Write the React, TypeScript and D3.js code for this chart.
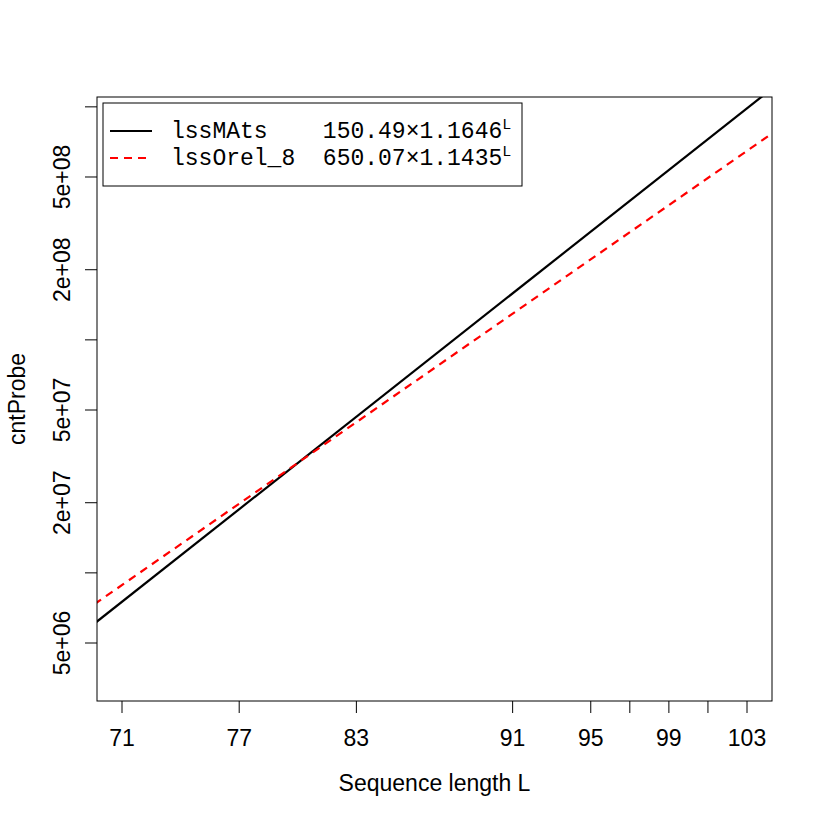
import React from "react";
import * as d3 from "d3";

// ---- data ----
const seriesNames = ["lssMAts", "lssOrel_8"];
const seriesLabels = ["lssMAts    ", "lssOrel_8  "];
const seriesCoefA = [150.49, 650.07];
const seriesBase = [1.1646, 1.1435];
const seriesColors = ["#000000", "#ff0000"];
const seriesDash = ["none", "8,6"];
const lineSpanL = [69, 106];

const xTicks = [71, 77, 83, 91, 95, 97, 99, 101, 103];
const xTickLabels = ["71", "77", "83", "91", "95", "", "99", "", "103"];
const yTicks = [5e6, 1e7, 2e7, 5e7, 1e8, 2e8, 5e8, 1e9];
const yTickLabels = ["5e+06", "", "2e+07", "5e+07", "", "2e+08", "5e+08", ""];

const xDomain = [69.72, 104.28];
const yDomain = [Math.pow(10, 6.4501), Math.pow(10, 9.0423)];

// ---- layout ----
const W = 822;
const H = 822;
const L = 97, R = 772, T = 97, B = 701;
const FONT = "'Liberation Sans', Arial, sans-serif";
const MONO = "'Liberation Mono', 'Courier New', monospace";
const FS = 23;

export default function App() {
  const x = d3.scaleLinear().domain(xDomain).range([L, R]);
  const y = d3.scaleLog().domain(yDomain).range([B, T]);

  const paths = seriesNames.map((_, k) => {
    const gen = d3
      .line<number>()
      .x((l) => x(l))
      .y((l) => y(seriesCoefA[k] * Math.pow(seriesBase[k], l)));
    return gen(lineSpanL) || "";
  });

  const legendRows = [131, 158];

  return (
    <svg
      width={W}
      height={H}
      style={{ position: "absolute", left: 0, top: 0, background: "#fff" }}
    >
      <defs>
        <clipPath id="plotclip">
          <rect x={L} y={T} width={R - L} height={B - T} />
        </clipPath>
      </defs>
      <rect x={0} y={0} width={W} height={H} fill="#fff" />

      {/* series lines */}
      <g clipPath="url(#plotclip)">
        {paths.map((d, k) => (
          <path
            key={k}
            d={d}
            fill="none"
            stroke={seriesColors[k]}
            strokeWidth={2.2}
            strokeDasharray={seriesDash[k]}
          />
        ))}
      </g>

      {/* frame */}
      <rect x={L} y={T} width={R - L} height={B - T} fill="none" stroke="#000" strokeWidth={1} />

      {/* x axis */}
      {xTicks.map((t, i) => (
        <g key={"x" + i}>
          <line x1={x(t)} x2={x(t)} y1={B} y2={B + 12} stroke="#000" strokeWidth={1} />
          {xTickLabels[i] && (
            <text x={x(t)} y={746} textAnchor="middle" fontFamily={FONT} fontSize={FS} fill="#000">
              {xTickLabels[i]}
            </text>
          )}
        </g>
      ))}

      {/* y axis */}
      {yTicks.map((t, i) => (
        <g key={"y" + i}>
          <line x1={L - 12} x2={L} y1={y(t)} y2={y(t)} stroke="#000" strokeWidth={1} />
          {yTickLabels[i] && (
            <text
              transform={`translate(70,${y(t)}) rotate(-90)`}
              textAnchor="middle"
              fontFamily={FONT}
              fontSize={FS}
              fill="#000"
            >
              {yTickLabels[i]}
            </text>
          )}
        </g>
      ))}

      {/* axis titles */}
      <text x={(L + R) / 2} y={791} textAnchor="middle" fontFamily={FONT} fontSize={FS} fill="#000">
        Sequence length L
      </text>
      <text
        transform={`translate(25,${(T + B) / 2}) rotate(-90)`}
        textAnchor="middle"
        fontFamily={FONT}
        fontSize={FS}
        fill="#000"
      >
        cntProbe
      </text>

      {/* legend */}
      <rect x={103} y={103} width={419} height={83} fill="#fff" stroke="#000" strokeWidth={1} />
      {seriesNames.map((_, k) => (
        <g key={"lg" + k}>
          <line
            x1={110}
            x2={152}
            y1={legendRows[k]}
            y2={legendRows[k]}
            stroke={seriesColors[k]}
            strokeWidth={2.2}
            strokeDasharray={seriesDash[k]}
          />
          <text
            x={171}
            y={legendRows[k] + 7}
            fontFamily={MONO}
            fontSize={23}
            fill="#000"
            style={{ whiteSpace: "pre" }}
          >
            {seriesLabels[k] + seriesCoefA[k].toFixed(2) + "\u00d7" + seriesBase[k].toFixed(4)}
            <tspan fontSize={15} dy={-9}>L</tspan>
          </text>
        </g>
      ))}
    </svg>
  );
}
